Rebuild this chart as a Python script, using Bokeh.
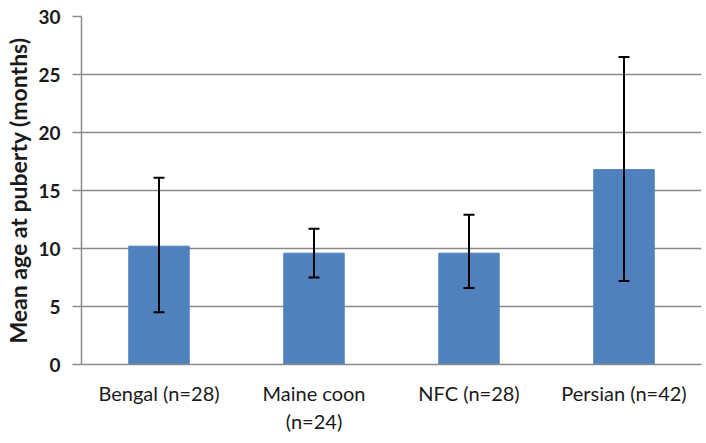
from bokeh.plotting import figure
from bokeh.models import ColumnDataSource, Whisker, TeeHead, FactorRange, Range1d, SingleIntervalTicker
from bokeh.embed import file_html
from bokeh.resources import INLINE

categories = ["Bengal (n=28)", "Maine coon\n(n=24)", "NFC (n=28)", "Persian (n=42)"]
means = [10.2, 9.6, 9.6, 16.8]
lower = [4.5, 7.5, 6.6, 7.2]
upper = [16.1, 11.7, 12.9, 26.5]

src = ColumnDataSource(dict(cat=categories, mean=means, lo=lower, hi=upper))

p = figure(width=704, height=436, x_range=FactorRange(*categories, range_padding=0),
           y_range=Range1d(0, 30), output_backend="svg", toolbar_location=None,
           min_border_left=81, min_border_right=3, min_border_top=16, min_border_bottom=70)
p.outline_line_color = None
p.xgrid.grid_line_color = None
p.ygrid.grid_line_color = "#8a8a8a"
p.ygrid.grid_line_width = 1.5

p.vbar(x="cat", top="mean", width=0.39, source=src, fill_color="#4F81BD", line_color="#4F81BD")

w = Whisker(base="cat", lower="lo", upper="hi", source=src, line_color="black", line_width=2,
            level="overlay",
            upper_head=TeeHead(size=11, line_color="black", line_width=2),
            lower_head=TeeHead(size=11, line_color="black", line_width=2))
p.add_layout(w)

p.yaxis.ticker = SingleIntervalTicker(interval=5)
p.yaxis.minor_tick_line_color = None
p.yaxis.major_tick_out = 9
p.yaxis.major_tick_in = 0
p.yaxis.axis_line_color = "#8a8a8a"
p.yaxis.axis_line_width = 1.5
p.yaxis.major_tick_line_color = "#8a8a8a"
p.yaxis.major_tick_line_width = 1.5
p.yaxis.major_label_text_font = "Lato"
p.yaxis.major_label_text_font_size = "19px"
p.yaxis.major_label_text_font_style = "bold"
p.yaxis.major_label_text_color = "#1a1a1a"
p.yaxis.major_label_standoff = 12
p.yaxis.axis_label = "Mean age at puberty (months)"
p.yaxis.axis_label_text_font = "Lato"
p.yaxis.axis_label_text_font_size = "23px"
p.yaxis.axis_label_text_font_style = "bold"
p.yaxis.axis_label_text_color = "#1a1a1a"
p.yaxis.axis_label_standoff = 3

p.xaxis.axis_line_color = "#8a8a8a"
p.xaxis.axis_line_width = 1.5
p.xaxis.major_tick_line_color = None
p.xaxis.minor_tick_line_color = None
p.xaxis.major_label_text_font = "Lato"
p.xaxis.major_label_text_font_size = "20px"
p.xaxis.major_label_text_line_height = 1.2
p.xaxis.major_label_text_color = "#1a1a1a"
p.xaxis.major_label_standoff = 10

open("out.html", "w").write(file_html(p, INLINE))
